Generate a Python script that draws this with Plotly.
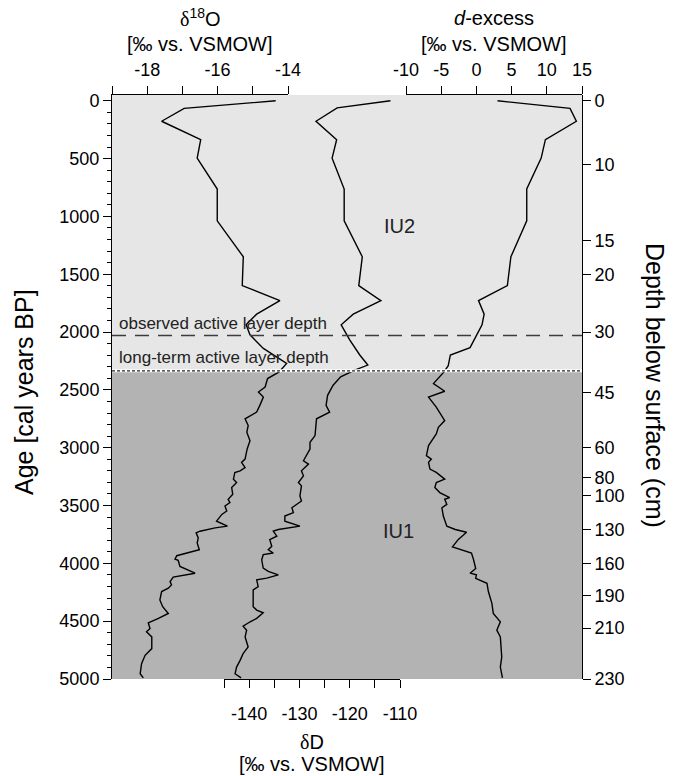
import plotly.graph_objects as go

# ---------------- data ----------------
age_d18o = [0, 66, 177, 336, 496, 763, 1038, 1349, 1598, 1728, 1845, 1937, 2024, 2141, 2271,
            2344, 2402, 2475, 2518, 2562, 2634, 2692, 2750, 2808, 2866, 2939, 3011, 3098, 3127,
            3171, 3200, 3214, 3272, 3301, 3345, 3403, 3446, 3475, 3504, 3548, 3577, 3635, 3678,
            3693, 3722, 3736, 3780, 3824, 3882, 3905, 3934, 3963, 3974, 4027, 4085, 4119, 4157,
            4186, 4215, 4244, 4317, 4375, 4433, 4476, 4514, 4563, 4592, 4636, 4737, 4795, 4868,
            4955, 4990]
d18o = [-14.35, -16.95, -17.59, -16.48, -16.58, -16.01, -16.01, -15.27, -15.30, -14.23, -14.89,
        -15.19, -15.08, -14.70, -14.04, -14.25, -14.58, -14.65, -14.84, -14.70, -14.80, -14.89,
        -15.22, -15.13, -15.17, -15.08, -15.16, -15.22, -15.32, -15.22, -15.36, -15.51, -15.55,
        -15.46, -15.60, -15.57, -15.70, -15.65, -15.79, -15.74, -15.88, -16.03, -15.72, -16.07,
        -16.50, -16.61, -16.55, -16.58, -16.52, -16.78, -17.16, -17.21, -17.12, -17.07, -16.64,
        -17.26, -17.35, -17.31, -17.40, -17.59, -17.64, -17.56, -17.40, -17.68, -17.97, -17.92,
        -18.02, -17.87, -17.87, -18.06, -18.16, -18.20, -18.11]

age_dD = [0, 61, 177, 336, 496, 763, 1038, 1349, 1598, 1728, 1845, 1937, 2068, 2198, 2285, 2329,
          2387, 2460, 2547, 2634, 2692, 2750, 2895, 2953, 3011, 3069, 3113, 3142, 3171, 3200, 3243,
          3301, 3330, 3417, 3461, 3490, 3519, 3562, 3591, 3635, 3678, 3707, 3722, 3765, 3795, 3853,
          3882, 3911, 3925, 3969, 4041, 4070, 4099, 4128, 4143, 4201, 4230, 4375, 4404, 4427, 4476,
          4505, 4543, 4578, 4636, 4723, 4781, 4839, 4897, 4955, 4990]
dD = [-111.9, -122.5, -126.7, -122.6, -123.5, -121.1, -121.1, -117.5, -118.2, -113.8, -119.3,
      -121.7, -120.0, -118.0, -116.4, -119.0, -121.8, -123.3, -124.4, -124.7, -124.0, -126.6,
      -126.9, -127.9, -127.9, -128.6, -129.2, -128.2, -128.9, -129.6, -129.2, -130.2, -129.6,
      -129.9, -129.6, -130.6, -131.5, -131.2, -132.9, -132.9, -129.9, -134.2, -135.2, -134.5,
      -135.9, -135.5, -136.2, -135.2, -137.2, -137.5, -137.2, -136.2, -134.2, -136.5, -138.5,
      -138.2, -139.2, -139.2, -138.5, -137.2, -138.5, -139.8, -141.2, -140.5, -140.8, -140.2,
      -141.2, -141.8, -142.5, -142.8, -141.6]

age_dex = [0, 66, 177, 336, 496, 763, 1038, 1349, 1598, 1728, 1845, 1937, 2135, 2198, 2290, 2344,
           2446, 2512, 2562, 2649, 2765, 2823, 2881, 2939, 2982, 3069, 3098, 3127, 3185, 3214, 3272,
           3301, 3345, 3388, 3432, 3446, 3490, 3519, 3591, 3678, 3707, 3731, 3795, 3858, 3911, 3969,
           4045, 4085, 4099, 4130, 4172, 4244, 4346, 4433, 4505, 4578, 4636, 4810, 4897, 4990]
dex = [3.0, 13.3, 14.2, 9.8, 9.2, 7.15, 7.15, 4.9, 4.4, 0.3, 1.1, 0.8, -0.9, -3.7, -4.0, -4.6,
       -6.1, -4.5, -6.8, -5.7, -4.5, -5.4, -5.7, -6.4, -6.8, -7.1, -6.4, -6.8, -6.6, -5.7, -4.5,
       -5.7, -5.9, -5.2, -3.8, -4.5, -4.2, -4.9, -4.7, -4.2, -3.0, -1.4, -2.6, -3.4, -0.7, -0.4,
       -0.1, -0.9, 0.0, -0.1, 1.5, 1.7, 2.2, 2.4, 3.4, 2.9, 3.4, 3.6, 3.4, 3.7]

# depth scale (right axis): age position of each depth label
depth_ages = [0, 550, 1210, 1500, 2000, 2520, 3000, 3257, 3414, 3709, 4000, 4279, 4559, 5000]
depth_labels = ["0", "10", "15", "20", "30", "45", "60", "80", "100", "130", "160", "190", "210", "230"]

d18o_ticks = [-18, -16, -14]
d18o_ticklabels = ["-18", "-16", "-14"]
dD_ticks = [-140, -130, -120, -110]
dD_ticklabels = ["-140", "-130", "-120", "-110"]
dex_ticks = [-10, -5, 0, 5, 10, 15]
dex_ticklabels = ["-10", "-5", "0", "5", "10", "15"]

boundary_age = 2335   # IU2 / IU1, long-term active layer depth
observed_age = 2030   # observed active layer depth

FONT = "Liberation Sans, Arial, Helvetica, sans-serif"
SERIF = "Liberation Serif, Times New Roman, serif"
W, H = 673, 776
ML, MR, MT, MB = 112, 91, 95, 97
PW = W - ML - MR
PH = H - MT - MB

fig = go.Figure()
ln = dict(color="black", width=1.4)
fig.add_trace(go.Scatter(x=d18o, y=age_d18o, xaxis="x", yaxis="y", mode="lines", line=ln, showlegend=False))
fig.add_trace(go.Scatter(x=dD, y=age_dD, xaxis="x2", yaxis="y", mode="lines", line=ln, showlegend=False))
fig.add_trace(go.Scatter(x=dex, y=age_dex, xaxis="x3", yaxis="y", mode="lines", line=ln, showlegend=False))
fig.add_trace(go.Scatter(x=dex, y=age_dex, xaxis="x3", yaxis="y2", mode="lines",
                         line=dict(color="rgba(0,0,0,0)", width=0), hoverinfo="skip", showlegend=False))

# background units
fig.add_shape(type="rect", xref="paper", yref="y", x0=0, x1=1, y0=-50, y1=boundary_age,
              fillcolor="#e6e6e6", line=dict(width=0), layer="below")
fig.add_shape(type="rect", xref="paper", yref="y", x0=0, x1=1, y0=boundary_age, y1=5000,
              fillcolor="#b3b3b3", line=dict(width=0), layer="below")
# active layer lines
fig.add_shape(type="line", xref="paper", yref="y", x0=0, x1=1, y0=observed_age, y1=observed_age,
              line=dict(color="#3c3c3c", width=1.5, dash="14px,9px"))
fig.add_shape(type="line", xref="paper", yref="y", x0=0, x1=1, y0=boundary_age, y1=boundary_age,
              line=dict(color="white", width=3))
fig.add_shape(type="line", xref="paper", yref="y", x0=0, x1=1, y0=boundary_age, y1=boundary_age,
              line=dict(color="#222222", width=1.2, dash="3px,2px"))

def px(xpix):
    return (xpix - ML) / PW

def py(ypix):
    return (H - MB - ypix) / PH

tickfont = dict(family=FONT, size=18, color="black")
common_x = dict(showgrid=False, zeroline=False, showline=True, linecolor="black", linewidth=1,
                ticks="outside", ticklen=8, tickcolor="black", tickfont=tickfont, tickmode="array",
                fixedrange=True)

fig.update_layout(
    width=W, height=H, autosize=False,
    margin=dict(l=ML, r=MR, t=MT, b=MB, pad=0),
    paper_bgcolor="white", plot_bgcolor="rgba(0,0,0,0)",
    font=dict(family=FONT, color="black"),
    showlegend=False,
    xaxis=dict(common_x, domain=[0, px(288)], range=[-19, -14], side="top", anchor="y",
               tickvals=d18o_ticks, ticktext=d18o_ticklabels, ticklabelstandoff=3,
               minor=dict(ticks="outside", ticklen=8, tickcolor="black", tickmode="linear",
                          tick0=-19, dtick=1, showgrid=False)),
    xaxis2=dict(common_x, domain=[px(224), px(400)], range=[-145, -110], side="bottom", anchor="y",
                tickvals=dD_ticks, ticktext=dD_ticklabels, ticklabelstandoff=10,
                minor=dict(ticks="outside", ticklen=8, tickcolor="black", tickmode="linear",
                           tick0=-145, dtick=5, showgrid=False)),
    xaxis3=dict(common_x, domain=[px(406), 1], range=[-10, 15], side="top", anchor="y",
                tickvals=dex_ticks, ticktext=dex_ticklabels, ticklabelstandoff=3),
    yaxis=dict(domain=[0, 1], range=[5000, -50], anchor="x", side="left", showgrid=False,
               zeroline=False, showline=True, linecolor="black", linewidth=1, ticks="outside",
               ticklen=8, tickcolor="black", tickmode="linear", tick0=0, dtick=500,
               tickfont=tickfont, fixedrange=True,
               minor=dict(ticks="outside", ticklen=4, tickcolor="black", tickmode="linear",
                          tick0=0, dtick=100, showgrid=False)),
    yaxis2=dict(overlaying="y", anchor="free", position=1, side="right", range=[5000, -50],
                showgrid=False, zeroline=False, showline=True, linecolor="black", linewidth=1,
                ticks="outside", ticklen=8, tickcolor="black", tickmode="array",
                tickvals=depth_ages, ticktext=depth_labels, tickfont=tickfont, fixedrange=True),
)

tfont = dict(family=FONT, size=20, color="black")
delta = "<span style='font-family:Liberation Serif, Times New Roman, serif'>δ</span>"
ann = [
    dict(text=delta + "<sup>18</sup>O", x=px(200), y=py(18)),
    dict(text="[‰ vs. VSMOW]", x=px(200), y=py(44)),
    dict(text="<i>d</i>-excess", x=px(494), y=py(18)),
    dict(text="[‰ vs. VSMOW]", x=px(494), y=py(44)),
    dict(text=delta + "D", x=px(312), y=py(742)),
    dict(text="[‰ vs. VSMOW]", x=px(312), y=py(764)),
]
for a in ann:
    fig.add_annotation(xref="paper", yref="paper", xanchor="center", yanchor="middle",
                       showarrow=False, font=tfont, **a)

big = dict(family=FONT, size=25, color="black")
fig.add_annotation(text="Age [cal years BP]", xref="paper", yref="paper", x=px(24), y=py(392),
                   textangle=-90, showarrow=False, font=big, xanchor="center", yanchor="middle")
fig.add_annotation(text="Depth below surface (cm)", xref="paper", yref="paper", x=px(655), y=py(385),
                   textangle=90, showarrow=False, font=big, xanchor="center", yanchor="middle")

small = dict(family=FONT, size=17, color="#222222")
fig.add_annotation(text="observed active layer depth", xref="paper", yref="y", x=px(117),
                   y=observed_age, xanchor="left", yanchor="bottom", yshift=1,
                   showarrow=False, font=small)
fig.add_annotation(text="long-term active layer depth", xref="paper", yref="y", x=px(117),
                   y=boundary_age, xanchor="left", yanchor="bottom", yshift=2,
                   showarrow=False, font=small)
unitf = dict(family=FONT, size=20, color="#222222")
fig.add_annotation(text="IU2", xref="paper", yref="y", x=px(399), y=1080, showarrow=False, font=unitf)
fig.add_annotation(text="IU1", xref="paper", yref="y", x=px(398), y=3720, showarrow=False, font=unitf)

fig.write_html("out.html", config={"displayModeBar": False, "staticPlot": True},
               post_script="document.body.style.margin='0px';document.body.style.overflow='hidden';")
